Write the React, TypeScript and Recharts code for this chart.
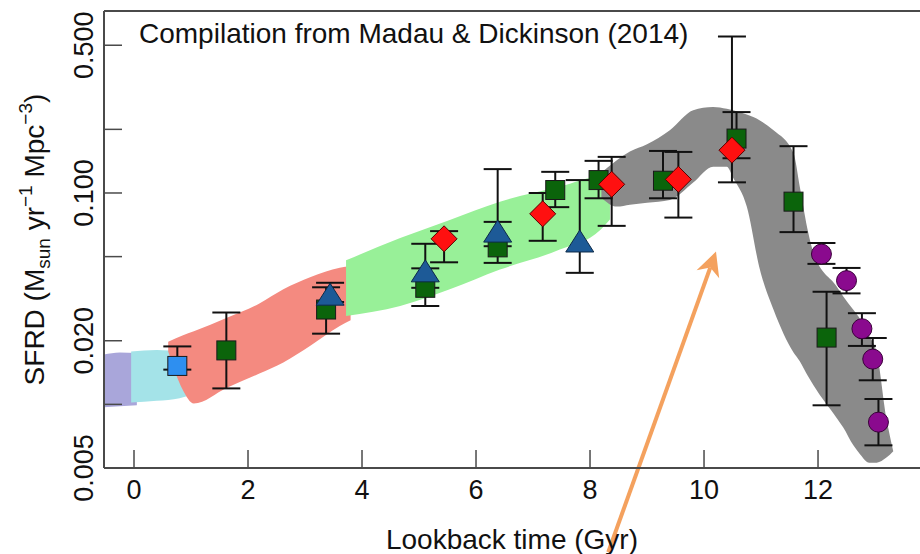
import React from "react";
import { ComposedChart, Area, Scatter, ErrorBar, XAxis, YAxis, ReferenceLine } from "recharts";

const xTicks = [0, 2, 4, 6, 8, 10, 12];
const yTicks = [0.005, 0.01, 0.02, 0.05, 0.1, 0.2, 0.5];
const yLabelled = [0.005, 0.02, 0.1, 0.5];
const yTop = 0.726;

// clouds behind the points: lower / upper edge at each lookback time
const lavenderBand = [
  { t: -0.53, lo: 0.0097, hi: 0.0172 },
  { t: -0.25, lo: 0.0098, hi: 0.0176 },
  { t: 0.05, lo: 0.0099, hi: 0.0175 },
];
const cyanBand = [
  { t: -0.05, lo: 0.0102, hi: 0.0178 },
  { t: 0.4, lo: 0.0104, hi: 0.0181 },
  { t: 0.8, lo: 0.0107, hi: 0.0178 },
  { t: 1.05, lo: 0.0112, hi: 0.0168 },
];
const salmonBand = [
  { t: 0.6, lo: 0.0178, hi: 0.0198 },
  { t: 0.85, lo: 0.0118, hi: 0.0212 },
  { t: 1.05, lo: 0.0101, hi: 0.0222 },
  { t: 1.63, lo: 0.012, hi: 0.0257 },
  { t: 2.2, lo: 0.014, hi: 0.03 },
  { t: 2.62, lo: 0.0158, hi: 0.035 },
  { t: 3.1, lo: 0.019, hi: 0.04 },
  { t: 3.61, lo: 0.0235, hi: 0.0443 },
  { t: 3.8, lo: 0.025, hi: 0.045 },
];
const greenBand = [
  { t: 3.72, lo: 0.0262, hi: 0.048 },
  { t: 4.67, lo: 0.0292, hi: 0.0612 },
  { t: 5.54, lo: 0.035, hi: 0.0746 },
  { t: 6.42, lo: 0.0434, hi: 0.091 },
  { t: 7.47, lo: 0.054, hi: 0.107 },
  { t: 8.18, lo: 0.0669, hi: 0.1193 },
  { t: 8.35, lo: 0.075, hi: 0.115 },
];
const grayBand = [
  { t: 8.2, lo: 0.095, hi: 0.125 },
  { t: 8.47, lo: 0.0862, hi: 0.143 },
  { t: 8.7, lo: 0.088, hi: 0.157 },
  { t: 9.0, lo: 0.09, hi: 0.17 },
  { t: 9.4, lo: 0.0927, hi: 0.198 },
  { t: 9.81, lo: 0.112, hi: 0.246 },
  { t: 10.16, lo: 0.133, hi: 0.255 },
  { t: 10.4, lo: 0.133, hi: 0.25 },
  { t: 10.51, lo: 0.118, hi: 0.246 },
  { t: 10.75, lo: 0.0862, hi: 0.235 },
  { t: 10.98, lo: 0.0434, hi: 0.2205 },
  { t: 11.22, lo: 0.028, hi: 0.1978 },
  { t: 11.57, lo: 0.0176, hi: 0.154 },
  { t: 11.68, lo: 0.016, hi: 0.107 },
  { t: 11.83, lo: 0.0135, hi: 0.0646 },
  { t: 11.92, lo: 0.0123, hi: 0.052 },
  { t: 12.33, lo: 0.0086, hi: 0.036 },
  { t: 12.44, lo: 0.0078, hi: 0.0325 },
  { t: 12.62, lo: 0.0064, hi: 0.028 },
  { t: 12.74, lo: 0.0058, hi: 0.0253 },
  { t: 12.9, lo: 0.0053, hi: 0.021 },
  { t: 13.03, lo: 0.0053, hi: 0.0176 },
  { t: 13.2, lo: 0.0056, hi: 0.0086 },
  { t: 13.32, lo: 0.006, hi: 0.006 },
];

// measurements: value with lower / upper error
const greenSquares = [
  { t: 1.62, sfrd: 0.018, lo: 0.0119, hi: 0.0272 },
  { t: 3.37, sfrd: 0.0281, lo: 0.0216, hi: 0.0358 },
  { t: 5.11, sfrd: 0.0356, lo: 0.0292, hi: 0.044 },
  { t: 6.38, sfrd: 0.0553, lo: 0.0467, hi: 0.073 },
  { t: 7.39, sfrd: 0.1033, lo: 0.0857, hi: 0.1259 },
  { t: 8.15, sfrd: 0.1151, lo: 0.0944, hi: 0.1419 },
  { t: 9.28, sfrd: 0.1143, lo: 0.0944, hi: 0.1581 },
  { t: 10.57, sfrd: 0.1809, lo: 0.146, hi: 0.2414 },
  { t: 11.57, sfrd: 0.091, lo: 0.0653, hi: 0.1665 },
  { t: 12.15, sfrd: 0.0207, lo: 0.0099, hi: 0.0341 },
];
const blueTriangles = [
  { t: 3.44, sfrd: 0.0325, lo: 0.0305, hi: 0.0376 },
  { t: 5.11, sfrd: 0.0419, lo: 0.0356, hi: 0.0575 },
  { t: 6.38, sfrd: 0.0646, lo: 0.056, hi: 0.1297 },
  { t: 7.82, sfrd: 0.058, lo: 0.0419, hi: 0.1151 },
];
const redDiamonds = [
  { t: 5.44, sfrd: 0.0607, lo: 0.047, hi: 0.066 },
  { t: 7.17, sfrd: 0.0797, lo: 0.0594, hi: 0.1 },
  { t: 8.38, sfrd: 0.1099, lo: 0.0699, hi: 0.1482 },
  { t: 9.55, sfrd: 0.116, lo: 0.0765, hi: 0.1564 },
  { t: 10.49, sfrd: 0.1594, lo: 0.1123, hi: 0.5499 },
];
const purpleCircles = [
  { t: 12.06, sfrd: 0.0514, lo: 0.0462, hi: 0.058 },
  { t: 12.5, sfrd: 0.0385, lo: 0.0335, hi: 0.0442 },
  { t: 12.77, sfrd: 0.0228, lo: 0.0189, hi: 0.027 },
  { t: 12.96, sfrd: 0.01637, lo: 0.013, hi: 0.0206 },
  { t: 13.06, sfrd: 0.00824, lo: 0.0064, hi: 0.0106 },
];
const blueSquares = [{ t: 0.76, sfrd: 0.0152, lo: 0.0146, hi: 0.0188 }];

const arrowFrom = { t: 8.32, sfrd: 0.002 };
const arrowTo = { t: 10.21, sfrd: 0.0528 };

const FONT = "'Liberation Sans', Arial, Helvetica, sans-serif";
const AXIS = "#4a4a4a";
const INK = "#111";

const range = (d: any) => [d.lo, d.hi];
const errs = (d: any) => [d.sfrd - d.lo, d.hi - d.sfrd];

const square = (fill: string) => (p: any) => (
  <rect x={p.cx - 9.5} y={p.cy - 9.5} width={19} height={19} fill={fill} stroke="#1a1a1a" strokeWidth={1} />
);
const diamond = (p: any) => (
  <polygon
    points={`${p.cx},${p.cy - 13} ${p.cx + 13},${p.cy} ${p.cx},${p.cy + 13} ${p.cx - 13},${p.cy}`}
    fill="#ff1010"
    stroke="#5a0000"
    strokeWidth={1}
  />
);
const triangle = (p: any) => (
  <polygon
    points={`${p.cx},${p.cy - 13} ${p.cx + 14},${p.cy + 9} ${p.cx - 14},${p.cy + 9}`}
    fill="#1d5a97"
    stroke="#0c2a48"
    strokeWidth={1}
  />
);
const circle = (p: any) => <circle cx={p.cx} cy={p.cy} r={10} fill="#8a0a8e" stroke="#3a003a" strokeWidth={1} />;

const YTick = ({ x, y, payload }: any) => {
  const v = payload.value;
  return (
    <g>
      <line x1={x} y1={y} x2={x + 18} y2={y} stroke={AXIS} strokeWidth={1.5} />
      {yLabelled.includes(v) && (
        <text
          x={x - 11}
          y={y}
          transform={`rotate(-90 ${x - 11} ${y})`}
          textAnchor="middle"
          fontSize={27}
          fontFamily={FONT}
          fill={INK}
        >
          {v.toFixed(3)}
        </text>
      )}
    </g>
  );
};

const XTick = ({ x, y, payload }: any) => (
  <g>
    <line x1={x} y1={y} x2={x} y2={y - 18} stroke={AXIS} strokeWidth={1.5} />
    <text x={x} y={y + 31} textAnchor="middle" fontSize={27} fontFamily={FONT} fill={INK}>
      {payload.value}
    </text>
  </g>
);

// y-axis title, plus the plot title placed just right of the axis
const YTitle = (props: any) => {
  const { x, y, width, height } = props.viewBox;
  const cx = x + 44;
  const cy = y + height / 2;
  return (
    <g>
      <text x={cx} y={cy} transform={`rotate(-90 ${cx} ${cy})`} textAnchor="middle" fontSize={28} fontFamily={FONT} fill={INK}>
        SFRD (M
        <tspan fontSize={19} dy={6}>sun</tspan>
        <tspan dy={-6}> yr</tspan>
        <tspan fontSize={19} dy={-12}>−1</tspan>
        <tspan dy={12}> Mpc</tspan>
        <tspan fontSize={19} dy={-12}>−3</tspan>
        <tspan dy={12}>)</tspan>
      </text>
      <text x={x + width + 35} y={y + 32} fontSize={28} fontFamily={FONT} fill={INK}>
        Compilation from Madau &amp; Dickinson (2014)
      </text>
    </g>
  );
};

const XTitle = (props: any) => {
  const { x, y, width } = props.viewBox;
  return (
    <text x={x + width / 2} y={y + 81} textAnchor="middle" fontSize={28} fontFamily={FONT} fill={INK}>
      Lookback time (Gyr)
    </text>
  );
};

const Arrow = (p: any) => {
  const { x1, y1, x2, y2 } = p;
  const len = Math.hypot(x2 - x1, y2 - y1);
  const ux = (x2 - x1) / len;
  const uy = (y2 - y1) / len;
  const nx = -uy;
  const ny = ux;
  const L = 24;
  const W = 12;
  const bx = x2 - L * ux;
  const by = y2 - L * uy;
  const mx = x2 - (L - 7) * ux;
  const my = y2 - (L - 7) * uy;
  return (
    <g>
      <line x1={x1} y1={y1} x2={mx} y2={my} stroke="#f4a15e" strokeWidth={4} />
      <polygon
        points={`${x2},${y2} ${bx + W * nx},${by + W * ny} ${mx},${my} ${bx - W * nx},${by - W * ny}`}
        fill="#f4a15e"
      />
    </g>
  );
};

export default function App() {
  return (
    <div style={{ position: "absolute", left: 0, top: 0, width: 920, height: 554, overflow: "hidden", background: "#fff" }}>
      <ComposedChart width={920} height={554} margin={{ top: 11, right: 0, bottom: 0, left: 0 }}>
        <XAxis
          dataKey="t"
          type="number"
          domain={[-0.5263, 13.789]}
          ticks={xTicks}
          interval={0}
          allowDataOverflow
          height={86}
          tickSize={0}
          tickMargin={0}
          tickLine={false}
          tick={<XTick />}
          axisLine={{ stroke: AXIS, strokeWidth: 2 }}
          label={XTitle}
        />
        <YAxis
          type="number"
          scale="log"
          domain={[0.005, yTop]}
          allowDataOverflow
          ticks={yTicks}
          interval={0}
          width={104}
          tickSize={0}
          tickMargin={0}
          tickLine={false}
          tick={<YTick />}
          axisLine={{ stroke: AXIS, strokeWidth: 2 }}
          label={YTitle}
        />

        <Area data={lavenderBand} dataKey={range} type="monotone" fill="#a9a6da" fillOpacity={1} stroke="none" dot={false} activeDot={false} isAnimationActive={false} />
        <Area data={cyanBand} dataKey={range} type="monotone" fill="#a4e3e8" fillOpacity={1} stroke="none" dot={false} activeDot={false} isAnimationActive={false} />
        <Area data={salmonBand} dataKey={range} type="monotone" fill="#f48a80" fillOpacity={1} stroke="none" dot={false} activeDot={false} isAnimationActive={false} />
        <Area data={greenBand} dataKey={range} type="monotone" fill="#98f098" fillOpacity={1} stroke="none" dot={false} activeDot={false} isAnimationActive={false} />
        <Area data={grayBand} dataKey={range} type="monotone" fill="#8a8a8a" fillOpacity={1} stroke="none" dot={false} activeDot={false} isAnimationActive={false} />

        <ReferenceLine y={yTop} ifOverflow="visible" stroke={AXIS} strokeWidth={2} />

        <Scatter data={greenSquares} dataKey="sfrd" shape={square("#0b640b")} isAnimationActive={false}>
          <ErrorBar dataKey={errs} direction="y" width={14} stroke="#111" strokeWidth={2} />
        </Scatter>
        <Scatter data={blueTriangles} dataKey="sfrd" shape={triangle} isAnimationActive={false}>
          <ErrorBar dataKey={errs} direction="y" width={14} stroke="#111" strokeWidth={2} />
        </Scatter>
        <Scatter data={redDiamonds} dataKey="sfrd" shape={diamond} isAnimationActive={false}>
          <ErrorBar dataKey={errs} direction="y" width={14} stroke="#111" strokeWidth={2} />
        </Scatter>
        <Scatter data={purpleCircles} dataKey="sfrd" shape={circle} isAnimationActive={false}>
          <ErrorBar dataKey={errs} direction="y" width={14} stroke="#111" strokeWidth={2} />
        </Scatter>
        <Scatter data={blueSquares} dataKey="sfrd" shape={square("#2e8ff0")} isAnimationActive={false}>
          <ErrorBar dataKey={errs} direction="y" width={14} stroke="#111" strokeWidth={2} />
        </Scatter>

        <ReferenceLine
          segment={[
            { x: arrowFrom.t, y: arrowFrom.sfrd },
            { x: arrowTo.t, y: arrowTo.sfrd },
          ]}
          ifOverflow="visible"
          shape={Arrow}
        />
      </ComposedChart>
    </div>
  );
}
